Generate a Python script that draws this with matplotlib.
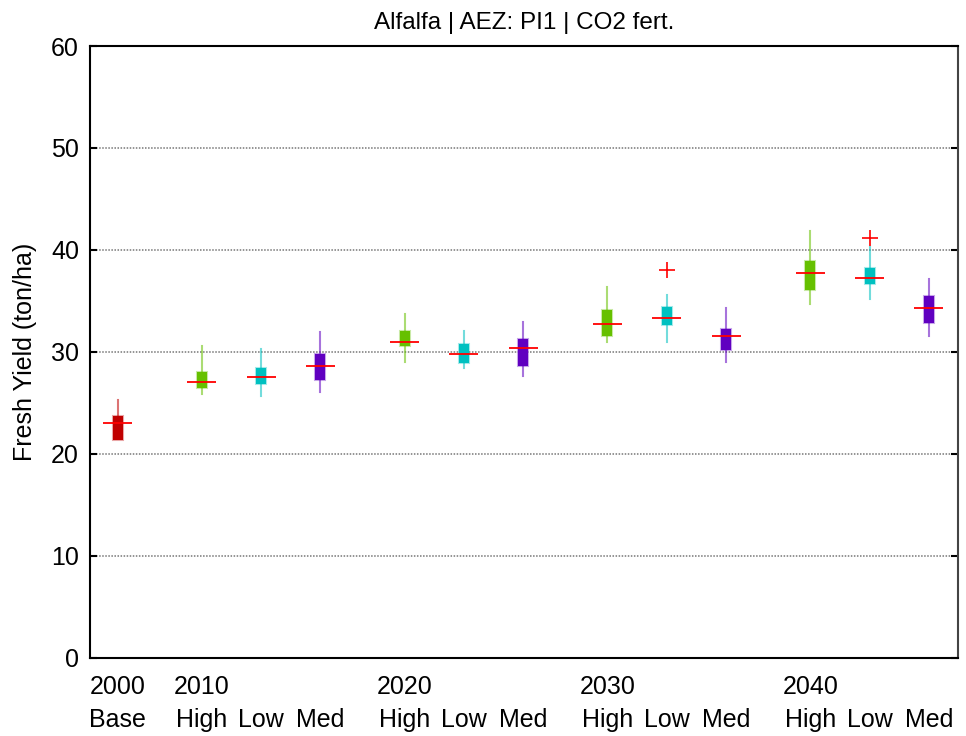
import matplotlib
matplotlib.use('Agg')
import matplotlib.pyplot as plt
from matplotlib import font_manager

# pick a narrow sans if there is one, the reference text is a bit condensed
names = {f.name for f in font_manager.fontManager.ttflist}
font = 'Liberation Sans Narrow' if 'Liberation Sans Narrow' in names else 'Liberation Sans'
plt.rcParams['font.family'] = [font, 'DejaVu Sans']

years = ['2000', '2010', '', '', '2020', '', '', '2030', '', '', '2040', '', '']
scenarios = ['Base', 'High', 'Low', 'Med', 'High', 'Low', 'Med',
             'High', 'Low', 'Med', 'High', 'Low', 'Med']

whishi = [25.3, 30.6, 30.3, 32.0, 33.7, 32.1, 32.9, 36.4, 35.6, 34.3, 41.9, 40.3, 37.2]
q3 = [23.7, 28.0, 28.4, 29.8, 32.1, 30.8, 31.3, 34.1, 34.4, 32.3, 38.9, 38.2, 35.5]
medians = [23.0, 27.1, 27.5, 28.6, 31.0, 29.8, 30.4, 32.7, 33.3, 31.6, 37.7, 37.3, 34.3]
q1 = [21.4, 26.5, 26.9, 27.3, 30.6, 28.9, 28.6, 31.6, 32.6, 30.2, 36.1, 36.7, 32.8]
whislo = [21.4, 25.9, 25.7, 26.1, 29.0, 28.4, 27.6, 31.0, 31.0, 29.0, 34.7, 35.2, 31.6]
outliers = [[], [], [], [], [], [], [], [], [38.0], [], [], [41.2], []]

colors = {'Base': '#C00000', 'High': '#66C000', 'Low': '#00C0C0', 'Med': '#6000C0'}

# base box at 0, then groups of three with a wider gap between groups
gap = 1.42
positions = [0.0]
for g in range(4):
    start = gap + g * (2 + gap)
    positions += [start, start + 1, start + 2]

stats = []
for i in range(len(scenarios)):
    stats.append({'med': medians[i], 'q1': q1[i], 'q3': q3[i],
                  'whislo': whislo[i], 'whishi': whishi[i], 'fliers': outliers[i]})

fig = plt.figure(figsize=(9.66, 7.36), dpi=100)
ax = fig.add_axes([0.0932, 0.106, 0.8985, 0.8315])

bp = ax.bxp(stats, positions=positions, widths=0.17, patch_artist=True,
            showcaps=False, manage_ticks=False,
            medianprops={'linewidth': 0},
            flierprops={'marker': '+', 'markeredgecolor': 'red',
                        'markersize': 12, 'markeredgewidth': 1.2})

for i, name in enumerate(scenarios):
    c = colors[name]
    bp['boxes'][i].set_facecolor(c)
    bp['boxes'][i].set_edgecolor(matplotlib.colors.to_rgba(c, 0.35))
    bp['boxes'][i].set_linewidth(1.5)
    for w in bp['whiskers'][2 * i:2 * i + 2]:
        w.set_color(matplotlib.colors.to_rgba(c, 0.55))
        w.set_linewidth(1.5)

# wide red median lines
for p, m in zip(positions, medians):
    ax.hlines(m, p - 0.245, p + 0.245, colors='red', linewidth=1.3, zorder=4)

ax.set_xlim(-0.464, 14.17)
ax.set_ylim(0, 60)
ax.set_yticks(range(0, 61, 10))
ax.set_xticks(positions)
ax.set_xticklabels([y + '\n' + s for y, s in zip(years, scenarios)], linespacing=1.5)
ax.tick_params(axis='x', length=0, pad=12, labelsize=18)
ax.tick_params(axis='y', direction='in', length=5, width=1.5, right=True,
               labelsize=18, pad=8)

for y in range(10, 60, 10):
    ax.axhline(y, color='#777777', linestyle=(0, (1, 1)), linewidth=1.1, zorder=0)

for s in ax.spines.values():
    s.set_linewidth(1.5)
    s.set_color('black')
ax.spines['right'].set_color('#444444')

ax.set_ylabel('Fresh Yield (ton/ha)', fontsize=18, labelpad=10)
ax.set_title('Alfalfa | AEZ: PI1 | CO2 fert.', fontsize=17.5, pad=12)

fig.savefig('out.png', dpi=100)
